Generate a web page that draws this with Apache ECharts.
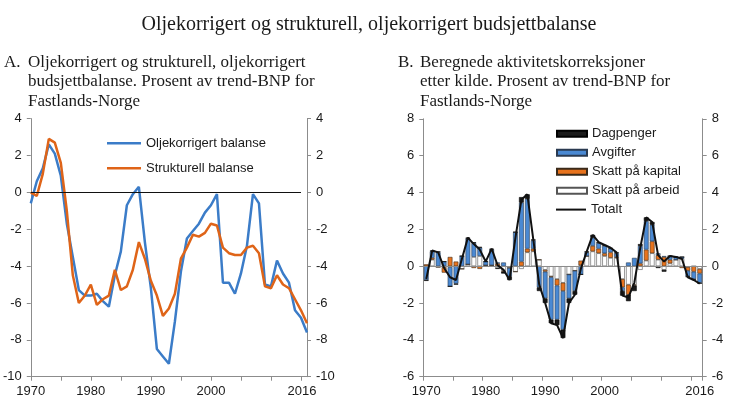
<!DOCTYPE html>
<html>
<head>
<meta charset="utf-8">
<script src="https://cdn.jsdelivr.net/npm/echarts@6/dist/echarts.min.js"></script>
<style>
html,body{margin:0;padding:0;background:#fff;}
#c{width:730px;height:418px;}
</style>
</head>
<body>
<div id="c"></div>
<script>
// ---------- DATA ----------
const years = [];
for (let y = 1970; y <= 2016; y++) years.push(String(y));

const xLabelYears = ['1970', '1980', '1990', '2000', '2016'];

// Panel A
const oljekorrigert = [
  -0.6, 0.6, 1.3, 2.6, 2.1, 0.9, -1.7, -3.5, -5.3, -5.6,
  -5.6, -5.5, -5.9, -6.2, -4.5, -3.2, -0.7, -0.1, 0.3, -2.7,
  -5.2, -8.5, -8.9, -9.3, -7.0, -4.3, -2.5, -2.1, -1.7, -1.1,
  -0.7, -0.1, -4.9, -4.9, -5.5, -4.4, -2.9, -0.1, -0.6, -5.0,
  -5.1, -3.7, -4.4, -4.9, -6.4, -6.8, -7.6
];
const strukturell = [
  0.0, -0.2, 1.0, 2.9, 2.7, 1.6, -1.0, -4.5, -6.0, -5.6,
  -5.0, -6.1, -5.8, -5.6, -4.2, -5.3, -5.1, -4.2, -2.7, -3.6,
  -4.8, -5.6, -6.7, -6.3, -5.5, -3.6, -3.0, -2.3, -2.4, -2.2,
  -1.7, -1.8, -3.0, -3.3, -3.4, -3.4, -3.0, -2.9, -3.3, -5.1,
  -5.2, -4.5, -5.0, -5.2, -5.8, -6.4, -7.1
];
const yTicksA = { min: -10, max: 4, interval: 2 };

// Panel B
const skattArbeid = [
  0, 0.35, -0.05, -0.05, -0.05, 0, -0.15, 0.1, 0.5, 0.55,
  0.05, 0.05, -0.1, -0.25, -0.1, -0.3, -0.15, 0.75, 0.8, 0.35,
  -0.2, -0.55, -0.7, -0.9, -0.45, -0.25, 0.05, 0.55, 0.8, 0.7,
  0.55, 0.45, 0.45, -0.7, -1.0, -1.0, -0.2, 0.3, 0.7, 0.35,
  -0.2, 0.15, 0.35, 0.4, -0.05, 0, -0.15
];
const skattKapital = [
  0.1, 0.1, 0, -0.3, 0.5, 0.25, 0, 0, -0.1, -0.15,
  0, 0, 0.15, -0.05, 0, 0, 0.25, 0.2, 0.15, 0,
  -0.1, -0.05, -0.35, -0.45, 0, 0, 0.25, 0, 0.3, 0.25,
  0.15, 0.3, 0.05, -0.45, -0.55, -0.05, 0.15, 0.6, 0.65, 0.25,
  0.5, 0.2, 0, -0.1, -0.2, -0.3, -0.25
];
const avgifter = [
  -0.75, 0.35, 0.75, 0.25, -1.05, -0.95, 0.55, 1.4, 0.75, 0.45,
  0.2, 0.85, 0.05, 0.2, -0.45, 1.85, 3.2, 2.7, 0.45, -1.15,
  -1.45, -2.3, -1.85, -2.1, -1.3, -1.1, -0.45, 0.2, 0.45, 0.3,
  0.4, 0.2, 0.2, -0.2, 0.2, 0.45, 0.95, 1.55, 0.9, 0.1,
  0.05, 0.2, 0.15, 0.1, -0.3, -0.4, -0.5
];
const dagpenger = [
  -0.05, 0.05, 0.05, 0, 0, -0.05, 0, 0.05, 0.05, 0.05,
  0, 0.05, -0.05, -0.1, -0.2, 0, 0.3, 0.25, 0.05, -0.2,
  -0.25, -0.2, -0.3, -0.45, -0.25, -0.2, 0, 0.05, 0.15, 0.05,
  0.05, 0.05, 0.05, -0.25, -0.35, -0.3, 0.1, 0.2, 0.15, -0.1,
  -0.1, 0, 0, 0, -0.05, -0.05, -0.05
];
const totalt = [
  -0.7, 0.85, 0.75, -0.1, -0.6, -0.75, 0.4, 1.55, 1.2, 0.9,
  0.25, 0.95, 0.05, -0.2, -0.75, 1.55, 3.6, 3.9, 1.45, -1.0,
  -2.0, -3.1, -3.2, -3.9, -2.0, -1.55, -0.15, 0.8, 1.7, 1.3,
  1.15, 1.0, 0.75, -1.6, -1.7, -0.9, 1.0, 2.65, 2.4, 0.6,
  0.25, 0.55, 0.5, 0.4, -0.6, -0.75, -0.95
];
const yTicksB = { min: -6, max: 8, interval: 2 };

// ---------- STYLE ----------
const SANS = '"Liberation Sans", Arial, sans-serif';
const SERIF = '"Liberation Serif", "Times New Roman", serif';
const AXIS_COLOR = '#8c8c8c';
const LABEL = { color: '#1a1a1a', fontSize: 13, fontFamily: SANS };
const BLUE_LINE = '#3b7cc8';
const ORANGE_LINE = '#df6418';

function xAxisFor(gridIndex, boundaryGap, shiftLast) {
  return {
    type: 'category', gridIndex, data: years, boundaryGap,
    axisLine: { show: true, onZero: false, lineStyle: { color: AXIS_COLOR, width: 1 } },
    axisTick: { show: true, length: 4, inside: false, interval: (i) => i % 5 === 0,
                lineStyle: { color: AXIS_COLOR } },
    axisLabel: Object.assign({}, LABEL, {
      margin: 8,
      interval: (i, v) => xLabelYears.includes(v),
      formatter: (v) => (shiftLast && v === '2016') ? '{r|2016}' : v,
      rich: { r: { fontSize: 13, fontFamily: SANS, color: '#1a1a1a', padding: [0, 10, 0, 0] } }
    }),
    splitLine: { show: false }
  };
}
function yAxisFor(gridIndex, pos, t) {
  return {
    type: 'value', gridIndex, position: pos, min: t.min, max: t.max, interval: t.interval,
    axisLine: { show: true, lineStyle: { color: AXIS_COLOR, width: 1 } },
    axisTick: { show: true, length: 4, inside: false, lineStyle: { color: AXIS_COLOR } },
    axisLabel: Object.assign({}, LABEL, { margin: 9 }),
    splitLine: { show: false }
  };
}

const chart = echarts.init(document.getElementById('c'), null, { renderer: 'canvas' });

const barCommon = (name, data, color, border) => ({
  name, type: 'bar', data, xAxisIndex: 1, yAxisIndex: 2, stack: 'b',
  barWidth: '80%',
  itemStyle: { color, borderColor: border, borderWidth: 0.6 },
  emphasis: { disabled: true }, animation: false
});

const legendText = { fontSize: 13, fontFamily: SANS, color: '#1a1a1a', lineHeight: 14 };
const titleFont = '17px ' + SERIF;

chart.setOption({
  animation: false,
  textStyle: { fontFamily: SANS },
  graphic: [
    { type: 'text', left: 141.5, top: 13,
      style: { text: 'Oljekorrigert og strukturell, oljekorrigert budsjettbalanse',
               font: '20px ' + SERIF, fill: '#1a1a1a', lineHeight: 24 } },
    { type: 'text', left: 4, top: 52.5,
      style: { text: 'A.', font: titleFont, fill: '#1a1a1a', lineHeight: 19.5 } },
    { type: 'text', left: 28, top: 52.5,
      style: { text: 'Oljekorrigert og strukturell, oljekorrigert\nbudsjettbalanse. Prosent av trend-BNP for\nFastlands-Norge',
               font: titleFont, fill: '#1a1a1a', lineHeight: 19.5 } },
    { type: 'text', left: 398, top: 52.5,
      style: { text: 'B.', font: titleFont, fill: '#1a1a1a', lineHeight: 19.5 } },
    { type: 'text', left: 420, top: 52.5,
      style: { text: 'Beregnede aktivitetskorreksjoner\netter kilde. Prosent av trend-BNP for\nFastlands-Norge',
               font: titleFont, fill: '#1a1a1a', lineHeight: 19.5 } }
  ],
  grid: [
    { left: 30.7, top: 118.6, width: 276.3, height: 258.1 },
    { left: 423.3, top: 118.8, width: 279.4, height: 257.9 }
  ],
  legend: [
    { data: [
        { name: 'Oljekorrigert balanse', icon: 'rect', itemStyle: { color: BLUE_LINE, borderWidth: 0 } },
        { name: 'Strukturell balanse', icon: 'rect', itemStyle: { color: ORANGE_LINE, borderWidth: 0 } }
      ], orient: 'vertical',
      left: 102, top: 131.3, itemWidth: 34, itemHeight: 2.5, itemGap: 11,
      textStyle: legendText, selectedMode: false },
    { data: [
        { name: 'Dagpenger', icon: 'rect' },
        { name: 'Avgifter', icon: 'rect' },
        { name: 'Skatt på kapital', icon: 'rect' },
        { name: 'Skatt på arbeid', icon: 'rect' }
      ], orient: 'vertical',
      left: 551, top: 121.7, itemWidth: 30, itemHeight: 6, itemGap: 5,
      textStyle: legendText, selectedMode: false },
    { data: [ { name: 'Totalt', icon: 'rect', itemStyle: { color: '#111', borderWidth: 0 } } ],
      orient: 'vertical',
      left: 551, top: 197.6, itemWidth: 30, itemHeight: 2, itemGap: 5,
      textStyle: legendText, selectedMode: false }
  ],
  xAxis: [ xAxisFor(0, false, true), xAxisFor(1, true, false) ],
  yAxis: [
    yAxisFor(0, 'left', yTicksA), yAxisFor(0, 'right', yTicksA),
    yAxisFor(1, 'left', yTicksB), yAxisFor(1, 'right', yTicksB)
  ],
  series: [
    { name: 'Oljekorrigert balanse', type: 'line', data: oljekorrigert, xAxisIndex: 0, yAxisIndex: 0,
      symbol: 'none', lineStyle: { color: BLUE_LINE, width: 2.5 }, itemStyle: { color: BLUE_LINE },
      z: 3,
      markLine: { silent: true, symbol: 'none', label: { show: false },
        lineStyle: { color: '#111', width: 1, type: 'solid' },
        data: [[ { coord: ['1970', 0] }, { coord: ['2015', 0] } ]] } },
    { name: 'Strukturell balanse', type: 'line', data: strukturell, xAxisIndex: 0, yAxisIndex: 0,
      symbol: 'none', lineStyle: { color: ORANGE_LINE, width: 2.5 }, itemStyle: { color: ORANGE_LINE },
      z: 4 },
    barCommon('Skatt på arbeid', skattArbeid, '#ffffff', '#555555'),
    barCommon('Skatt på kapital', skattKapital, '#e8731d', '#3a2a1a'),
    barCommon('Avgifter', avgifter, '#4a89d3', '#2a3a50'),
    Object.assign(barCommon('Dagpenger', dagpenger, '#1a1a1a', '#000000'), {
      markLine: { silent: true, symbol: 'none', label: { show: false },
        lineStyle: { color: '#8c8c8c', width: 1, type: 'solid' },
        data: [ { yAxis: 0 } ] } }),
    { name: 'Totalt', type: 'line', data: totalt, xAxisIndex: 1, yAxisIndex: 2,
      symbol: 'none', lineStyle: { color: '#111', width: 2 }, itemStyle: { color: '#111' }, z: 5 }
  ]
});
</script>
</body>
</html>
